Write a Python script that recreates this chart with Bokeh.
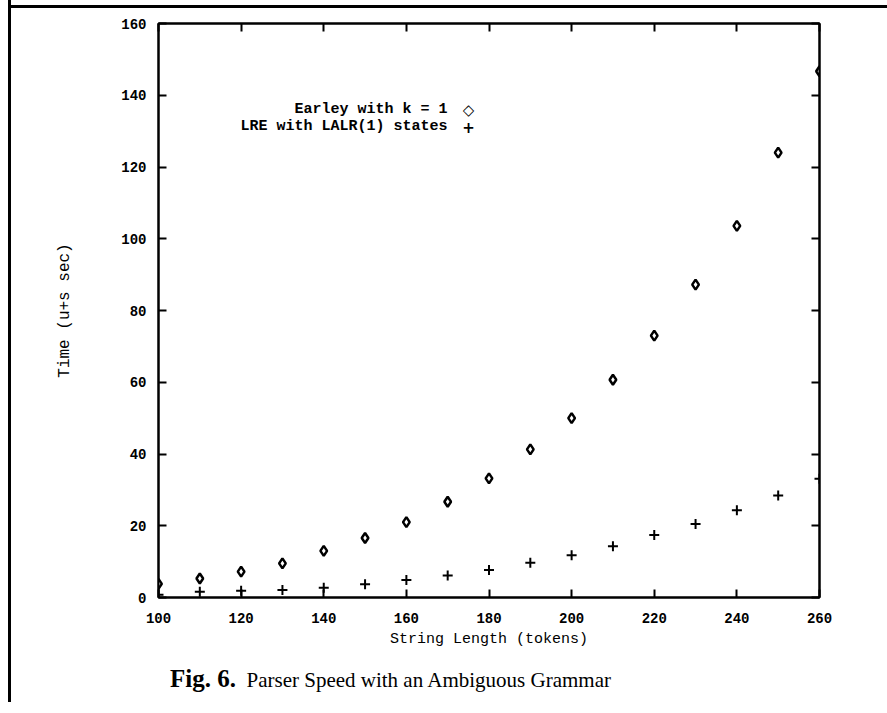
from bokeh.plotting import figure
from bokeh.models import LinearAxis, SingleIntervalTicker, Label, Range1d, Div
from bokeh.layouts import column
from bokeh.embed import file_html
from bokeh.resources import INLINE

# Data
lengths = [100, 110, 120, 130, 140, 150, 160, 170, 180, 190, 200, 210, 220, 230, 240, 250, 260]
earley = [3.8, 5.3, 7.2, 9.5, 13.0, 16.6, 21.0, 26.7, 33.2, 41.3, 50.0, 60.7, 73.0, 87.2, 103.6, 124.0, 146.7]
lre = [0.8, 1.6, 1.9, 2.1, 2.7, 3.7, 4.9, 6.1, 7.7, 9.7, 11.8, 14.3, 17.4, 20.5, 24.3, 28.4, 33.1]

series_names = ["Earley with k = 1", "LRE with LALR(1) states"]
x_title = "String Length (tokens)"
y_title = "Time (u+s sec)"
caption_bold = "Fig. 6."
caption_text = "Parser Speed with an Ambiguous Grammar"
x_ticks = [100, 120, 140, 160, 180, 200, 220, 240, 260]
y_ticks = [0, 20, 40, 60, 80, 100, 120, 140, 160]

MONO = "Liberation Mono"
SERIF = "Liberation Serif"

p = figure(width=876, height=637,
           x_range=Range1d(100, 260), y_range=Range1d(0, 160),
           output_backend="svg", toolbar_location=None,
           min_border_left=147, min_border_right=68,
           min_border_top=10, min_border_bottom=49,
           x_axis_label=x_title, y_axis_label=y_title)

p.xgrid.visible = False
p.ygrid.visible = False
p.outline_line_color = "black"
p.outline_line_width = 2
p.outline_line_alpha = 1.0

for ax in (p.xaxis[0], p.yaxis[0]):
    ax.ticker = SingleIntervalTicker(interval=20)
    ax.major_tick_in = 8
    ax.major_tick_out = 0
    ax.major_tick_line_width = 2
    ax.minor_tick_line_color = None
    ax.axis_line_width = 2
    ax.major_label_text_font = MONO
    ax.major_label_text_font_size = "14px"
    ax.major_label_text_font_style = "bold"
    ax.major_label_text_color = "black"
    ax.axis_label_text_font = MONO
    ax.axis_label_text_font_style = "normal"
    ax.axis_label_text_color = "black"

p.xaxis[0].axis_label_text_font_size = "15px"
p.yaxis[0].axis_label_text_font_size = "16px"
p.xaxis[0].major_label_standoff = 11
p.xaxis[0].axis_label_standoff = 5
p.yaxis[0].major_label_standoff = 8
p.yaxis[0].axis_label_standoff = 44

for side, ticks in (("right", y_ticks), ("above", x_ticks)):
    ax = LinearAxis(ticker=SingleIntervalTicker(interval=20))
    ax.major_tick_in = 8
    ax.major_tick_out = 0
    ax.major_tick_line_width = 2
    ax.minor_tick_line_color = None
    ax.axis_line_width = 2
    ax.major_label_overrides = {t: "" for t in ticks}
    p.add_layout(ax, side)

p.scatter(lengths, earley, marker="diamond", size=10, line_width=2.5,
          line_color="black", fill_color="white")
p.scatter(lengths, lre, marker="cross", size=10, line_width=2,
          line_color="black")

# Legend (text followed by symbol, right-aligned like the original)
leg_y = [488, 471]
for name, sym, yy in zip(series_names, ["\u25c7", "+"], leg_y):
    p.add_layout(Label(x=289, y=yy, x_units="screen", y_units="screen", text=name,
                       text_align="right", text_baseline="middle",
                       text_font=MONO, text_font_size="15px", text_font_style="bold",
                       text_color="black"))
    p.add_layout(Label(x=310, y=yy, x_units="screen", y_units="screen", text=sym,
                       text_align="center", text_baseline="middle",
                       text_font="DejaVu Sans", text_font_size="15px", text_font_style="bold",
                       text_color="black"))

top_bar = Div(text="", width=876, height=3, margin=(5, 0, 5, 0),
              styles={"background-color": "black"})

caption = Div(
    text=('<div style="font-family:\'Liberation Serif\';font-size:21px;color:black;'
          'padding-left:159px;padding-top:11px;white-space:nowrap">'
          '<b style="font-size:25px">%s</b>&nbsp; %s</div>') % (caption_bold, caption_text),
    width=876, height=52, margin=0)

layout = column(top_bar, p, caption)
layout.styles = {"border-left": "3px solid black", "margin-left": "8px"}

open("out.html", "w").write(file_html(layout, INLINE))
